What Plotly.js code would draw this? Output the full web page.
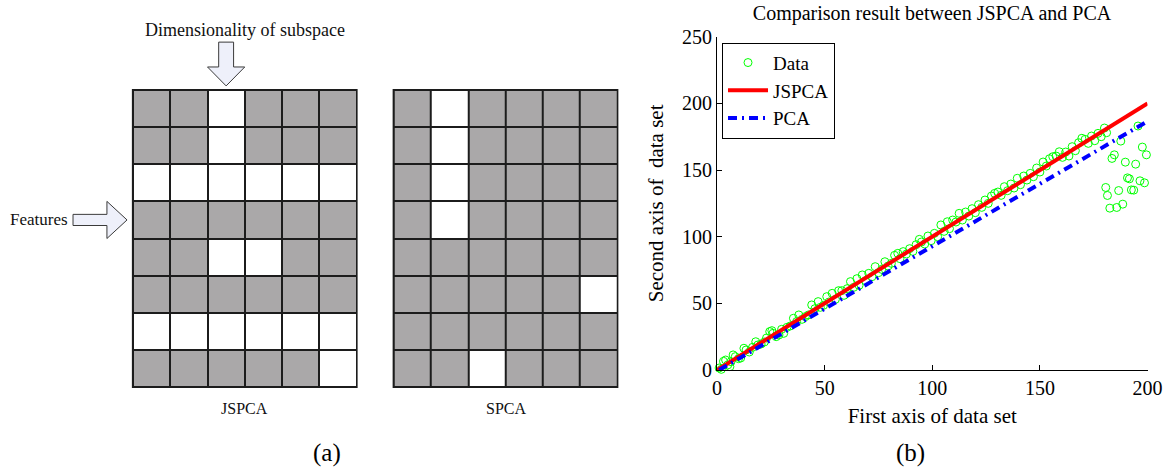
<!DOCTYPE html>
<html>
<head>
<meta charset="utf-8">
<script src="https://cdn.plot.ly/plotly-3.0.1.min.js"></script>
<style>html,body{margin:0;padding:0;background:#fff;}#chart{width:1169px;height:469px;}</style>
</head>
<body>
<div id="chart"></div>
<script>
// ---------- Panel (a): sparsity patterns (1 = white / zero loading, 0 = grey / non-zero) ----------
const gridColumns = [1, 2, 3, 4, 5, 6];
const jspcaRows = [            // top row first
  [0, 0, 1, 0, 0, 0],
  [0, 0, 1, 0, 0, 0],
  [1, 1, 1, 1, 1, 1],
  [0, 0, 0, 0, 0, 0],
  [0, 0, 1, 1, 0, 0],
  [0, 0, 0, 0, 0, 0],
  [1, 1, 1, 1, 1, 1],
  [0, 0, 0, 0, 0, 1]
];
const spcaRows = [
  [0, 1, 0, 0, 0, 0],
  [0, 1, 0, 0, 0, 0],
  [0, 1, 0, 0, 0, 0],
  [0, 1, 0, 0, 0, 0],
  [0, 0, 0, 0, 0, 0],
  [0, 0, 0, 0, 0, 1],
  [0, 0, 0, 0, 0, 0],
  [0, 0, 1, 0, 0, 0]
];
const gridLabels = ["JSPCA", "SPCA"];

// ---------- Panel (b): data set ----------
const dataX = [1,2,3,4,5,6,6.5,7.5,8.5,10,11,12.5,13.5,15,16.5,18,19,20.5,22,23,24.5,25.5,26,27.5,28.8,30,31,32.5,34,35.5,37,38,39.5,41,42.5,44,45.5,47,48,49.5,
  51,52,53.5,55,56.5,58,59,60.5,62,63.5,65,66,67.5,69,70.5,72,73.5,75,76.5,78,79.5,81,82.5,84,85,86.5,88,89.5,91,92.5,94,95,96.5,98,99.5,
  101,102.5,104,105.5,107,108,109.5,111,112.5,114,115.5,117,118.5,120,121.5,123,124.5,126,127.5,129,130.5,132,133.5,135,136.5,138,139.5,
  141,142.5,144,145.5,147,148.5,150,151.5,153,154.5,156,157.5,159,160.5,162,163.5,165,166.5,168,169.5,171,172.5,174,175.5,177,178.5,180,181,
  195.6,187.6,197.6,199.5,184.6,183.5,194.5,189.7,190.7,191.6,196.5,198.6,180.6,186.6,192.5,193.6,181.4,182.5,185.7,188.5];
const dataY = [1.5,0.5,6.5,7.5,3.8,2.5,6.2,11.3,10,8.5,9,16.3,15,13.5,17,21.2,18.8,19.5,21,24,28.8,29.5,27.5,25,26.3,30.5,27.5,32,33,38.8,36.3,41.3,38,40,41.3,48.8,46,51.3,47,48.5,
  55,51,57.5,53,59.5,59.5,56,61,66.3,62,68.5,63.5,71.3,67,72.5,70,77.5,73,75.5,81.2,78,80,86,87.5,83.5,88.8,87,91,89,94,98,96,94.5,100.5,97,
  102.5,100,108.8,104,111.2,106,112.5,111,117.5,112.5,118.5,115.5,121,118,124,122,127.5,125,130.5,132.5,133.5,131,137.5,134.5,139.5,136.5,143.8,
  139,145.5,142.5,147.5,145,151.5,148.5,156,153,158.5,160,160.5,163.7,159.5,163.5,160.5,167.5,164.5,170.5,173.8,173,170,175.5,172,177.5,175,181.5,178,183,
  171.7,167.2,161.4,161.4,158.7,154.4,155.9,144.1,143.4,141.9,140.4,136.9,134.6,135.1,134.9,130.9,121.4,121.9,124.4,123.9];
const jspcaX = [0, 200];
const jspcaY = [0, 200];
const pcaX = [1, 200];
const pcaY = [0, 186.5];
const xTicks = [0, 50, 100, 150, 200];
const yTicks = [0, 50, 100, 150, 200, 250];

const FONT = "Liberation Serif, Times New Roman, serif";

// Panel (a) geometry in cell units (axis x2 / y2)
const jspcaOffset = 0, spcaOffset = 7, nRows = jspcaRows.length;
const colCenters = off => gridColumns.map(c => off + c - 0.5);
const rowCenters = jspcaRows.map((r, i) => i + 0.5);           // bottom row first
const rev = rows => rows.slice().reverse();

const grey = '#aaa8a9';
const traces = [
  {type: 'heatmap', x: colCenters(jspcaOffset), y: rowCenters, z: rev(jspcaRows),
   xaxis: 'x2', yaxis: 'y2', zmin: 0, zmax: 1, colorscale: [[0, grey], [1, '#ffffff']],
   showscale: false, xgap: 2, ygap: 2, hoverinfo: 'skip', showlegend: false},
  {type: 'heatmap', x: colCenters(spcaOffset), y: rowCenters, z: rev(spcaRows),
   xaxis: 'x2', yaxis: 'y2', zmin: 0, zmax: 1, colorscale: [[0, grey], [1, '#ffffff']],
   showscale: false, xgap: 2, ygap: 2, hoverinfo: 'skip', showlegend: false},
  {type: 'scatter', mode: 'markers', name: 'Data', x: dataX, y: dataY, cliponaxis: false,
   marker: {symbol: 'circle-open', size: 8, color: '#00ff00', line: {width: 1, color: '#00ff00'}}},
  {type: 'scatter', mode: 'lines', name: 'JSPCA', x: jspcaX, y: jspcaY,
   line: {color: '#ff0000', width: 4}},
  {type: 'scatter', mode: 'lines', name: 'PCA', x: pcaX, y: pcaY,
   line: {color: '#0000ff', width: 4, dash: '9px,5px,2px,5px'}}
];

const uMin = -133 / 37.25, uMax = (0.55 * 1169 - 133) / 37.25;
const vMin = (387 - 469) / 37.125, vMax = 387 / 37.125;

const shapes = [
  {type: 'rect', xref: 'x2', yref: 'y2', x0: jspcaOffset - 0.03, x1: jspcaOffset + 6.03, y0: -0.03, y1: nRows + 0.03,
   fillcolor: '#1c1c1c', line: {width: 0}, layer: 'below'},
  {type: 'rect', xref: 'x2', yref: 'y2', x0: spcaOffset - 0.03, x1: spcaOffset + 6.03, y0: -0.03, y1: nRows + 0.03,
   fillcolor: '#1c1c1c', line: {width: 0}, layer: 'below'},
  // down arrow (dimensionality of subspace)
  {type: 'path', xref: 'x2', yref: 'y2',
   path: 'M2.3,9.29 L2.7,9.29 L2.7,8.62 L3.0,8.62 L2.5,8.11 L2.0,8.62 L2.3,8.62 Z',
   fillcolor: '#eef0fa', line: {color: '#3a3a3a', width: 1}},
  // right arrow (features)
  {type: 'path', xref: 'x2', yref: 'y2',
   path: 'M-1.61,4.35 L-0.70,4.35 L-0.70,4.0 L-0.16,4.5 L-0.70,5.0 L-0.70,4.65 L-1.61,4.65 Z',
   fillcolor: '#eef0fa', line: {color: '#3a3a3a', width: 1}}
];

const annotations = [
  {xref: 'x2', yref: 'y2', x: 3.0, y: 9.62, text: 'Dimensionality of subspace', showarrow: false,
   xanchor: 'center', yanchor: 'middle', font: {family: FONT, size: 18, color: '#111'}},
  {xref: 'x2', yref: 'y2', x: -1.69, y: 4.5, text: 'Features', showarrow: false,
   xanchor: 'right', yanchor: 'middle', font: {family: FONT, size: 17, color: '#111'}},
  {xref: 'x2', yref: 'y2', x: jspcaOffset + 3, y: -0.57, text: gridLabels[0], showarrow: false,
   xanchor: 'center', yanchor: 'middle', font: {family: FONT, size: 16, color: '#111'}},
  {xref: 'x2', yref: 'y2', x: spcaOffset + 3, y: -0.57, text: gridLabels[1], showarrow: false,
   xanchor: 'center', yanchor: 'middle', font: {family: FONT, size: 16, color: '#111'}},
  {xref: 'paper', yref: 'paper', x: 327 / 1169, y: 16 / 469, text: '(a)', showarrow: false, borderpad: 0,
   xanchor: 'center', yanchor: 'middle', font: {family: FONT, size: 25, color: '#000'}},
  {xref: 'paper', yref: 'paper', x: 910 / 1169, y: 16 / 469, text: '(b)', showarrow: false, borderpad: 0,
   xanchor: 'center', yanchor: 'middle', font: {family: FONT, size: 25, color: '#000'}}
];

const axisCommon = {showline: true, linecolor: '#000', linewidth: 1, ticks: 'inside', ticklen: 5,
  tickcolor: '#000', showgrid: false, zeroline: false, mirror: false,
  tickfont: {family: FONT, size: 20, color: '#000'}};

const layout = {
  width: 1169, height: 469, margin: {l: 0, r: 0, t: 0, b: 0},
  paper_bgcolor: '#fff', plot_bgcolor: '#fff',
  font: {family: FONT, color: '#000'},
  title: {text: 'Comparison result between JSPCA and PCA', x: 932 / 1169, xanchor: 'center',
          y: 1 - 13 / 469, yanchor: 'middle', font: {family: FONT, size: 20, color: '#000'}},
  xaxis: Object.assign({}, axisCommon, {domain: [717 / 1169, 1147.5 / 1169], range: [0, 200],
    tickvals: xTicks, anchor: 'y',
    title: {text: 'First axis of data set', font: {family: FONT, size: 21, color: '#000'}, standoff: 10}}),
  yaxis: Object.assign({}, axisCommon, {domain: [99 / 469, 432.3 / 469], range: [0, 250],
    tickvals: yTicks, anchor: 'x',
    title: {text: 'Second axis of  data set', font: {family: FONT, size: 21, color: '#000'}, standoff: 12}}),
  xaxis2: {domain: [0, 0.55], range: [uMin, uMax], visible: false, anchor: 'y2', fixedrange: true},
  yaxis2: {domain: [0, 1], range: [vMin, vMax], visible: false, anchor: 'x2', fixedrange: true},
  showlegend: true,
  legend: {x: 722 / 1169, y: 1 - 42.7 / 469, xanchor: 'left', yanchor: 'top', bgcolor: '#fff',
    bordercolor: '#000', borderwidth: 1, font: {family: FONT, size: 19, color: '#000'},
    tracegroupgap: 0, itemwidth: 40},
  shapes: shapes,
  annotations: annotations
};

Plotly.newPlot('chart', traces, layout, {staticPlot: true, displayModeBar: false});
</script>
</body>
</html>
